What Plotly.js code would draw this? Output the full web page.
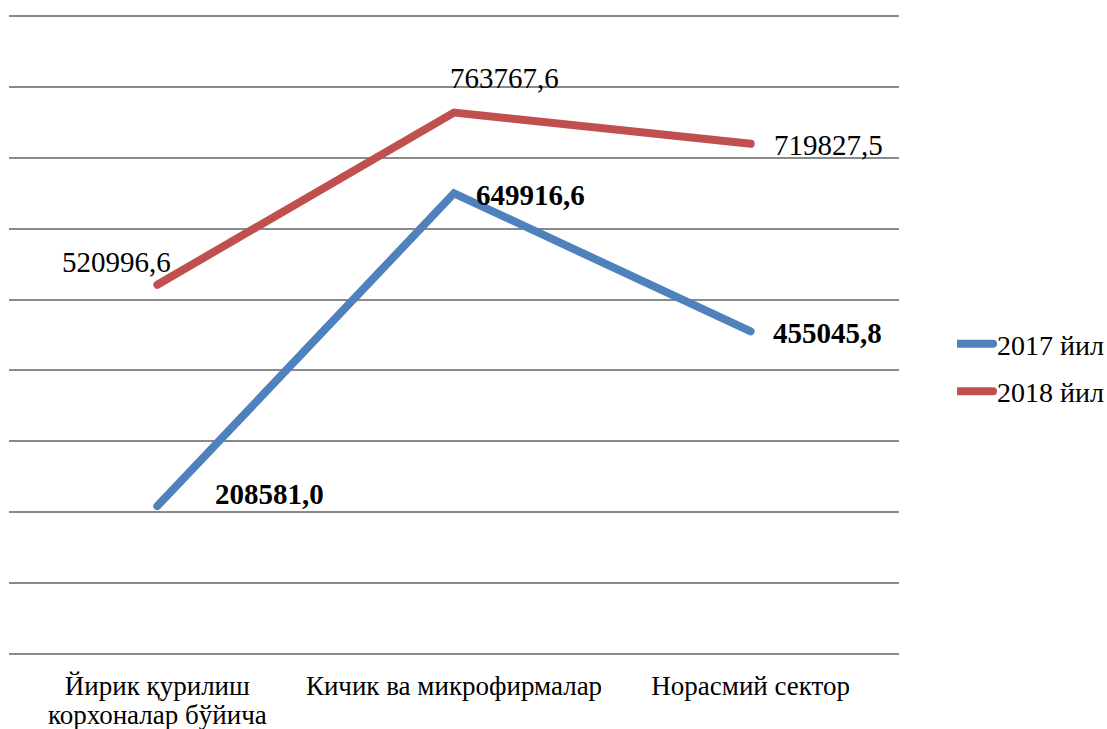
<!DOCTYPE html>
<html>
<head>
<meta charset="utf-8">
<script src="https://cdn.plot.ly/plotly-3.0.1.min.js"></script>
<style>html,body{margin:0;padding:0;background:#fff;}#chart{width:1107px;height:729px;}</style>
</head>
<body>
<div id="chart"></div>
<script>
const categories = ["Йирик қурилиш<br>корхоналар бўйича", "Кичик ва микрофирмалар", "Норасмий сектор"];
const seriesNames = ["2017 йил", "2018 йил"];
const values2017 = [208581.0, 649916.6, 455045.8];
const values2018 = [520996.6, 763767.6, 719827.5];
const colors = ["#4F81BD", "#C0504D"];

const FONT = "Liberation Serif";
const fmt = v => v.toFixed(1).replace('.', ',');

const traces = [
  {x: categories, y: values2017, name: seriesNames[0], type: 'scatter', mode: 'lines',
   line: {color: colors[0], width: 8}, legendgroup: 'a', hoverinfo: 'skip'},
  {x: categories, y: values2018, name: seriesNames[1], type: 'scatter', mode: 'lines',
   line: {color: colors[1], width: 8}, legendgroup: 'b', hoverinfo: 'skip'}
];

// label offsets (pixels) for each point
const off2017 = [[56, 12], [20, -2], [20, -2]];
const off2018 = [[-97, 23], [-6, 35], [21, -1]];

const annotations = [];
values2017.forEach((v, i) => annotations.push({
  x: categories[i], y: v, xref: 'x', yref: 'y', text: '<b>' + fmt(v) + '</b>', showarrow: false,
  xanchor: 'left', yanchor: 'middle', xshift: off2017[i][0], yshift: off2017[i][1],
  font: {family: FONT, size: 29, color: '#000'}
}));
values2018.forEach((v, i) => annotations.push({
  x: categories[i], y: v, xref: 'x', yref: 'y', text: fmt(v), showarrow: false,
  xanchor: 'left', yanchor: 'middle', xshift: off2018[i][0], yshift: off2018[i][1],
  font: {family: FONT, size: 29, color: '#000'}
}));

const layout = {
  width: 1107, height: 729,
  margin: {l: 9, r: 208, t: 15, b: 74, pad: 0, autoexpand: false},
  paper_bgcolor: '#fff', plot_bgcolor: '#fff',
  font: {family: FONT, size: 27, color: '#000'},
  showlegend: true,
  legend: {x: 1.0652, xanchor: 'left', y: 0.449, yanchor: 'middle', tracegroupgap: 8,
           font: {family: FONT, size: 28, color: '#000'}, bgcolor: 'rgba(0,0,0,0)'},
  xaxis: {type: 'category', range: [-0.5, 2.5], showgrid: false, zeroline: false, showline: false,
          ticks: '', ticklabelstandoff: 12, tickfont: {family: FONT, size: 27, color: '#000'}, fixedrange: true},
  yaxis: {range: [-1500, 901500], dtick: 100000, tick0: 0, showticklabels: false, showgrid: true,
          gridcolor: '#8a8a8a', gridwidth: 1.5, zeroline: true, zerolinecolor: '#8a8a8a', zerolinewidth: 1.5,
          showline: false, ticks: '', fixedrange: true},
  annotations: annotations
};

function tweak() {
  document.querySelectorAll('#chart path').forEach(p => {
    const d = (p.getAttribute('d') || '').replace(/\s+/g, '');
    if (/^M5,0h30/.test(d) || /^M5,0l30/.test(d) || p.closest('.legendlines')) {
      p.setAttribute('d', 'M-16,0h52');
      p.style.strokeLinecap = 'round';
    }
  });
  document.querySelectorAll('.scatterlayer path.js-line').forEach(p => { p.style.strokeLinecap = 'round'; });
  document.querySelectorAll('.xtick text tspan.line').forEach(t => {
    const dy = t.getAttribute('dy');
    if (dy && dy !== '0em' && dy !== '0') t.setAttribute('dy', '1.08em');
  });
}
Plotly.newPlot('chart', traces, layout, {displayModeBar: false}).then(() => {
  tweak();
  setTimeout(tweak, 50);
});
</script>
</body>
</html>
